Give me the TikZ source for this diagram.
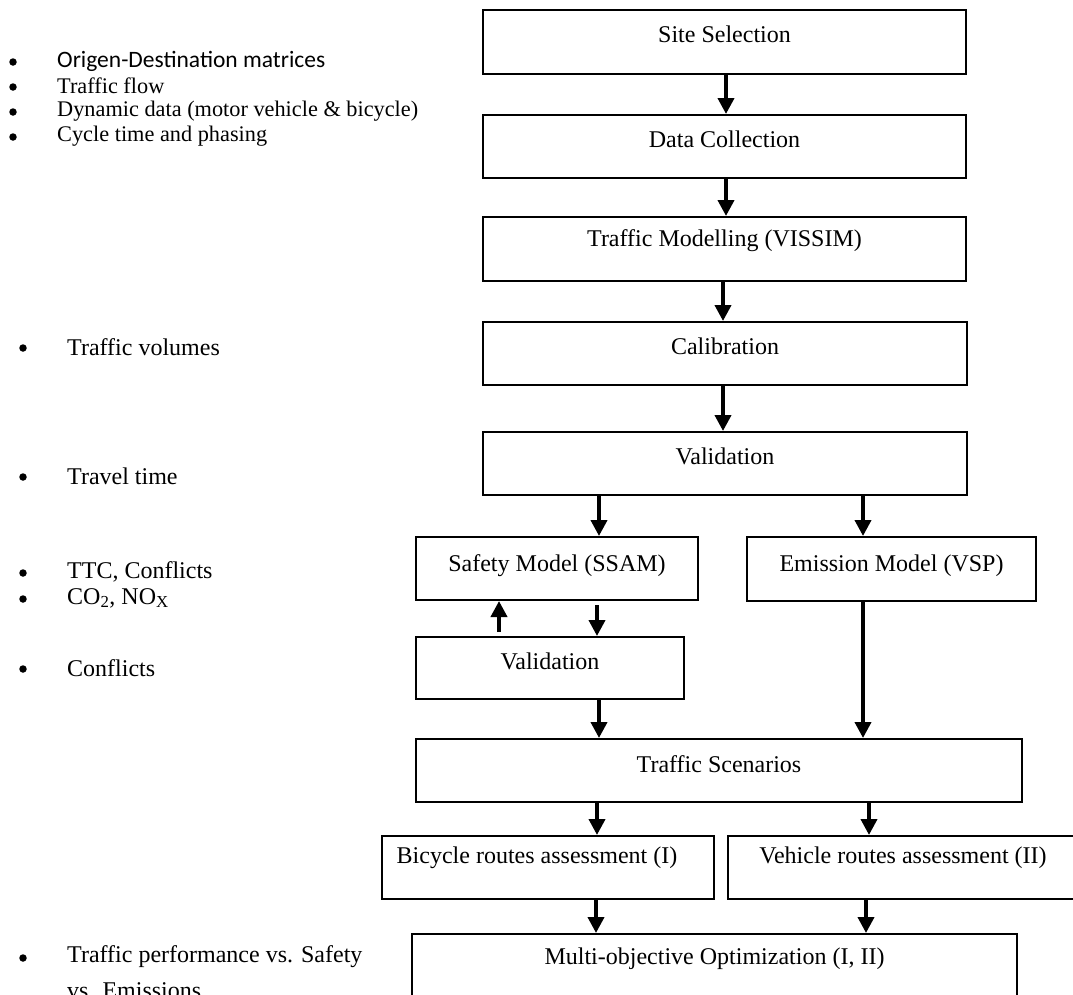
\documentclass[tikz,border=0pt]{standalone}
\usepackage{fontspec}
\setmainfont{Liberation Serif}
\newfontfamily\calibri{Carlito}
\usetikzlibrary{arrows.meta}
\begin{document}
\begin{tikzpicture}[x=1pt,y=-1pt,
  flow/.style={draw, rectangle, line width=2pt, inner sep=0pt},
  lab/.style={anchor=center, inner sep=0pt, font=\fontsize{24}{28}\selectfont, yshift=-25pt},
  arr/.style={line width=3.8pt, -{Triangle[length=16pt,width=16pt]}},
  gap/.style={shorten <=4pt},
  note/.style={anchor=west, inner sep=0pt, font=\fontsize{24}{28}\selectfont},
  small/.style={anchor=west, inner sep=0pt, font=\fontsize{22.3}{25}\selectfont},
  dot/.style={circle, fill=black, inner sep=0pt, minimum size=7.5pt}]
\clip (0,0) rectangle (1073,994);
\fill[white] (0,0) rectangle (1073,994);

% main process chain
\node[flow, minimum width=483pt, minimum height=64pt, label={[lab]north:Site Selection}] (site) at (724.5,42) {};
\node[flow, minimum width=483pt, minimum height=63pt, label={[lab]north:Data Collection}] (data) at (724.5,146.5) {};
\node[flow, minimum width=483pt, minimum height=64pt, label={[lab]north:Traffic Modelling (VISSIM)}] (model) at (724.5,249) {};
\node[flow, minimum width=484pt, minimum height=63pt, label={[lab]north:Calibration}] (calib) at (725,353.5) {};
\node[flow, minimum width=484pt, minimum height=63pt, label={[lab]north:Validation}] (valid) at (725,463.5) {};

% the two models
\node[flow, minimum width=282pt, minimum height=63pt, label={[lab,yshift=-5pt]north:Safety Model (SSAM)}] (safety) at (557,568.5) {};
\node[flow, minimum width=289pt, minimum height=64pt, label={[lab,yshift=-5pt]north:Emission Model (VSP)}] (emis) at (891.5,569) {};
\node[flow, minimum width=268pt, minimum height=62pt, label={[lab]north:Validation}] (valtwo) at (550,668) {};

% scenarios and assessment
\node[flow, minimum width=606pt, minimum height=63pt, label={[lab,yshift=-1pt]north:Traffic Scenarios}] (scen) at (719,770.5) {};
\node[flow, minimum width=332pt, minimum height=63pt, label={[lab,yshift=2pt,xshift=-11pt]north:Bicycle routes assessment (I)}] (bike) at (548,867.5) {};
\node[flow, minimum width=350pt, minimum height=63pt, label={[lab,yshift=2pt]north:Vehicle routes assessment (II)}] (car) at (903,867.5) {};
\node[flow, minimum width=605pt, minimum height=64pt, label={[lab,yshift=-1pt]north:Multi-objective Optimization (I, II)}] (multi) at (714.5,966) {};

% connectors
\draw[arr] (site.south -| 726,0) -- (data.north -| 726,0);
\draw[arr] (data.south -| 726,0) -- (model.north -| 726,0);
\draw[arr] (model.south -| 723,0) -- (calib.north -| 723,0);
\draw[arr] (calib.south -| 723,0) -- (valid.north -| 723,0);
\draw[arr] (valid.south -| 599,0) -- (safety.north -| 599,0);
\draw[arr] (valid.south -| 863,0) -- (emis.north -| 863,0);
\draw[arr,gap] (safety.south -| 597,0) -- (valtwo.north -| 597,0);
\draw[arr,gap] (valtwo.north -| 499,0) -- (safety.south -| 499,0);
\draw[arr] (valtwo.south -| 599,0) -- (scen.north -| 599,0);
\draw[arr] (emis.south -| 863,0) -- (scen.north -| 863,0);
\draw[arr] (scen.south -| 597,0) -- (bike.north -| 597,0);
\draw[arr] (scen.south -| 869,0) -- (car.north -| 869,0);
\draw[arr] (bike.south -| 596,0) -- (multi.north -| 596,0);
\draw[arr] (car.south -| 866,0) -- (multi.north -| 866,0);

% data items listed beside the chain
\node[dot] (b1) at (13,62) {};
\node[small, font=\calibri\fontsize{23.5}{25}\selectfont] (n1) at (57,61) {Origen-Destination matrices};
\node[dot] (b2) at (13,87) {};
\node[small] (n2) at (57,86) {Traffic flow};
\node[dot] (b3) at (13,112) {};
\node[small] (n3) at (57,111) {Dynamic data (motor vehicle \& bicycle)};
\node[dot] (b4) at (13,137) {};
\node[small] (n4) at (57,136) {Cycle time and phasing};

\node[dot] (b5) at (23,348) {};
\node[note] (n5) at (67,347) {Traffic volumes};
\node[dot] (b6) at (23,477) {};
\node[note] (n6) at (67,476) {Travel time};
\node[dot] (b7) at (23,573) {};
\node[note] (n7) at (67,572) {TTC, Conflicts};
\node[dot] (b8) at (23,599) {};
\node[note] (n8) at (67,598) {CO\textsubscript{2}, NO\textsubscript{X}};
\node[dot] (b9) at (23,669) {};
\node[note] (n9) at (67,668) {Conflicts};
\node[dot] (b10) at (23,958) {};
\node[note] (n10) at (67,957) {Traffic performance vs. Safety};
\node[note] (n11) at (67,991) {vs. Emissions};
\end{tikzpicture}
\end{document}
